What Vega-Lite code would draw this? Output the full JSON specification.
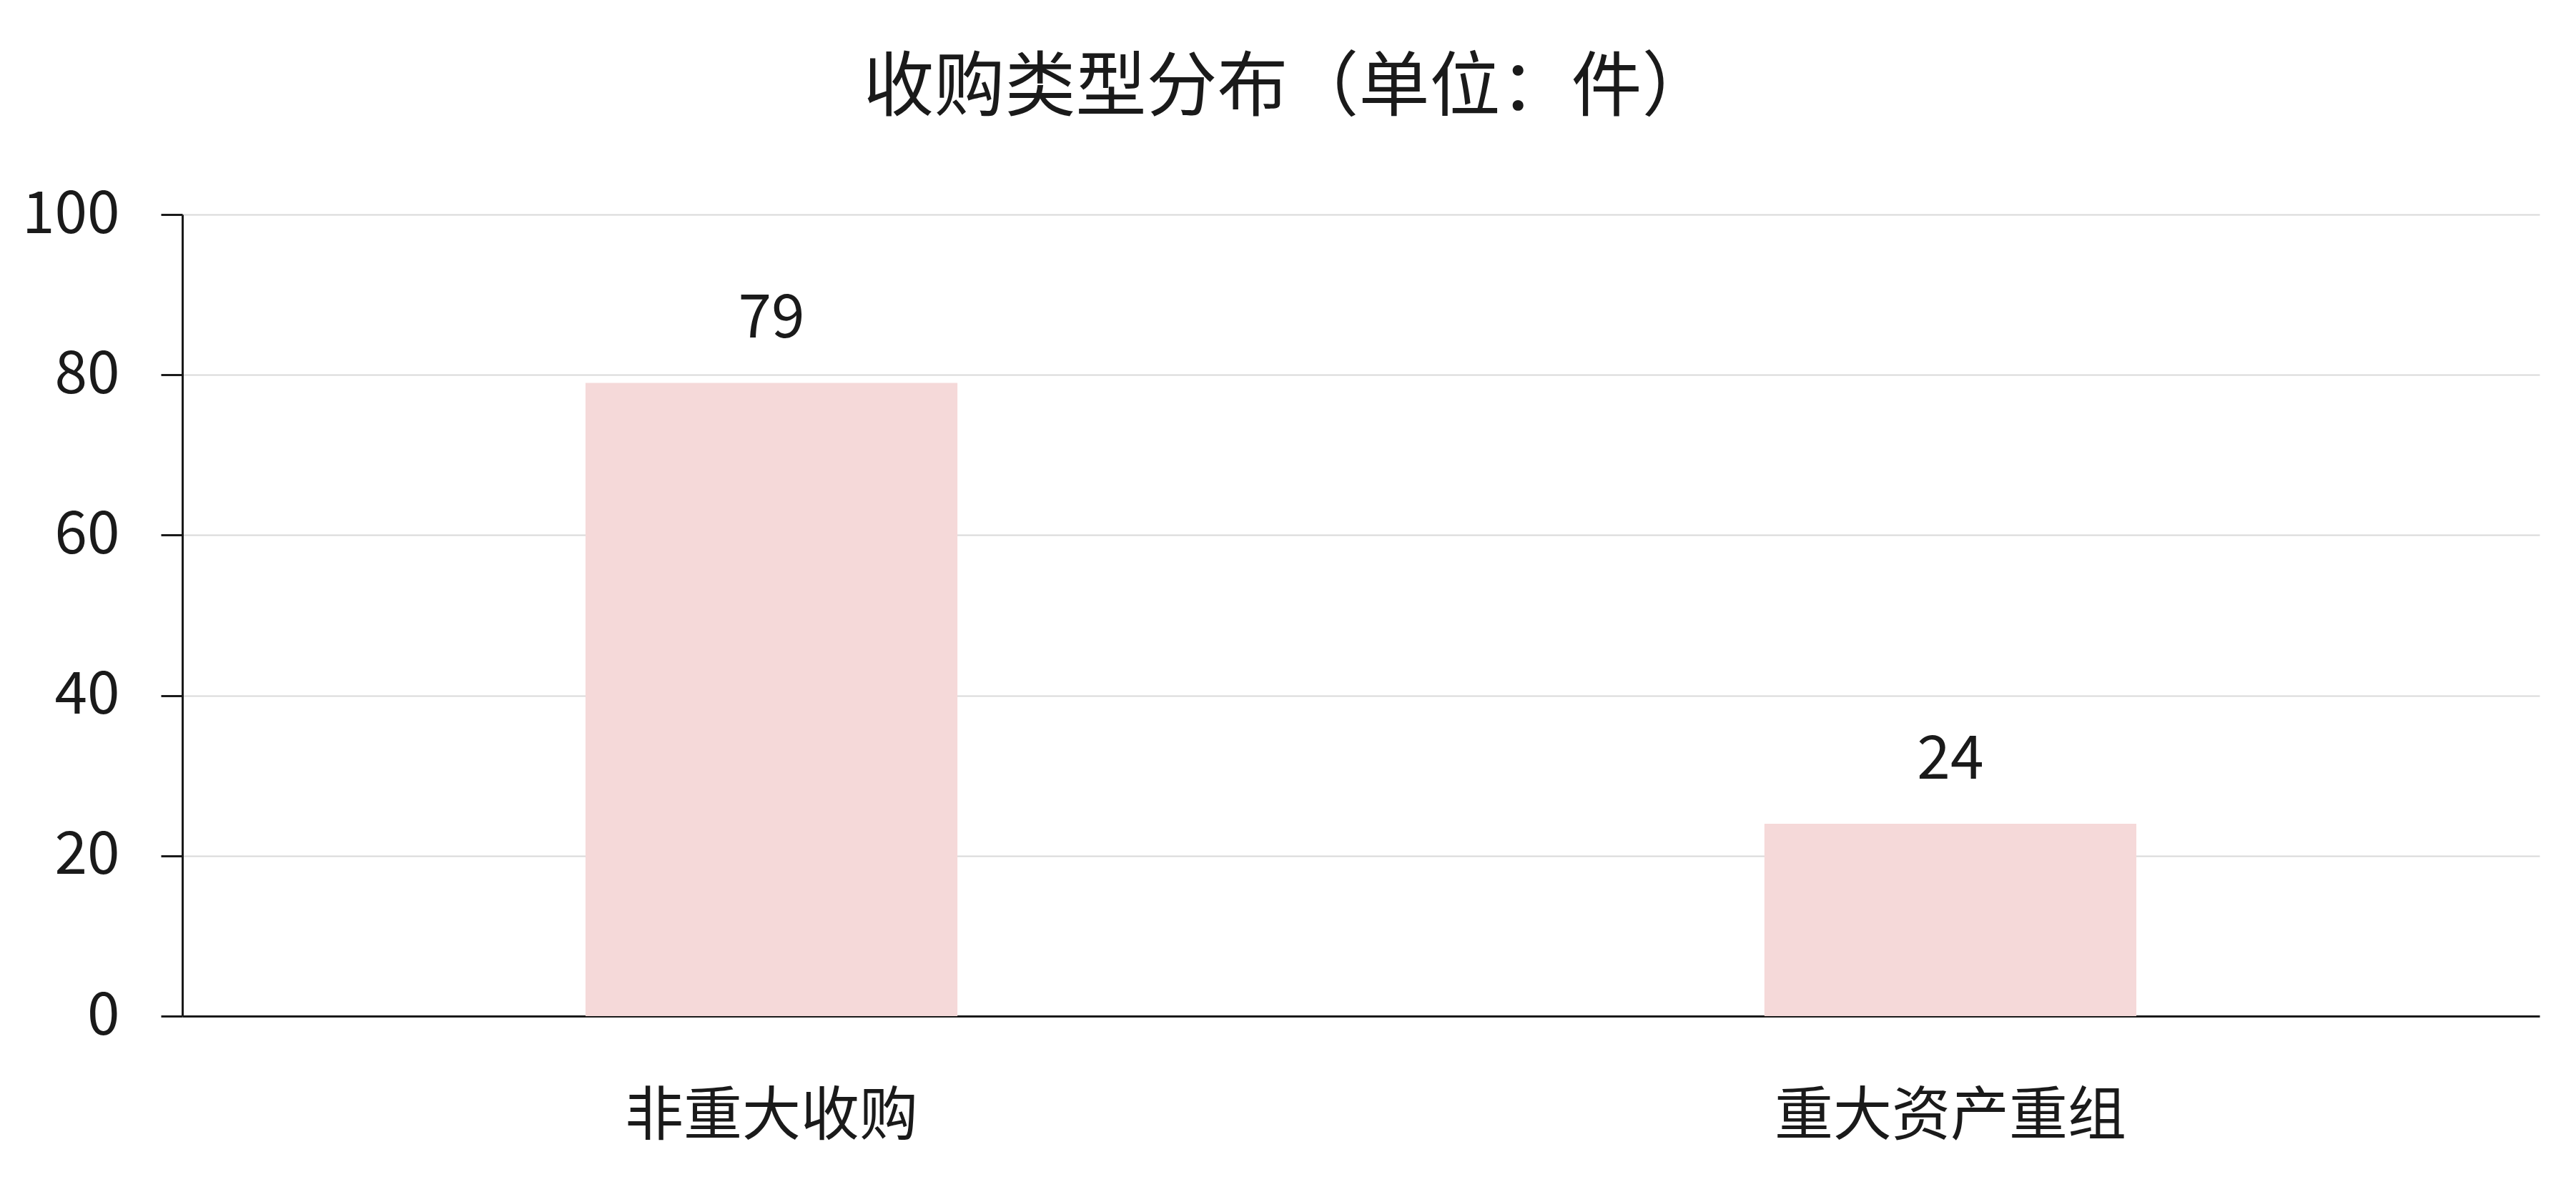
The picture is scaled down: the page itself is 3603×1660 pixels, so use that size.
{
  "$schema": "https://vega.github.io/schema/vega-lite/v6.json",
  "width": 3297,
  "height": 1121,
  "autosize": {"type": "none"},
  "padding": {"left": 255, "top": 300, "right": 51, "bottom": 239},
  "background": "white",
  "title": {
    "text": "收购类型分布（单位：件）",
    "font": "Noto Sans CJK SC",
    "fontSize": 99,
    "fontWeight": "normal",
    "color": "#1a1a1a",
    "anchor": "middle",
    "frame": "group",
    "dx": -102,
    "offset": 84
  },
  "data": {
    "values": [
      {"type": "非重大收购", "count": 79},
      {"type": "重大资产重组", "count": 24}
    ]
  },
  "encoding": {
    "x": {
      "field": "type",
      "type": "nominal",
      "sort": null,
      "scale": {"paddingInner": 0.6845, "paddingOuter": 0.342},
      "axis": {
        "title": null,
        "labelAngle": 0,
        "labelLimit": 0,
        "labelFont": "Noto Sans CJK SC",
        "labelFontSize": 82,
        "labelColor": "#1a1a1a",
        "labelPadding": 100,
        "ticks": false,
        "domainColor": "#1a1a1a",
        "domainWidth": 3,
        "grid": false
      }
    },
    "y": {
      "field": "count",
      "type": "quantitative",
      "scale": {"domain": [0, 100], "nice": false},
      "axis": {
        "title": null,
        "values": [0, 20, 40, 60, 80, 100],
        "labelFont": "Noto Sans CJK SC",
        "labelFontSize": 82,
        "labelColor": "#1a1a1a",
        "labelPadding": 58,
        "tickSize": 30,
        "tickWidth": 3,
        "tickColor": "#1a1a1a",
        "domainColor": "#1a1a1a",
        "domainWidth": 3,
        "grid": true,
        "gridColor": "#d9d9d9",
        "gridWidth": 2
      }
    }
  },
  "layer": [
    {
      "mark": {"type": "bar", "color": "#f5d9d9"}
    },
    {
      "mark": {
        "type": "text",
        "font": "Noto Sans CJK SC",
        "fontSize": 84,
        "color": "#1a1a1a",
        "baseline": "alphabetic",
        "dy": -63
      },
      "encoding": {"text": {"field": "count", "type": "quantitative"}}
    }
  ],
  "config": {"view": {"stroke": null}}
}
